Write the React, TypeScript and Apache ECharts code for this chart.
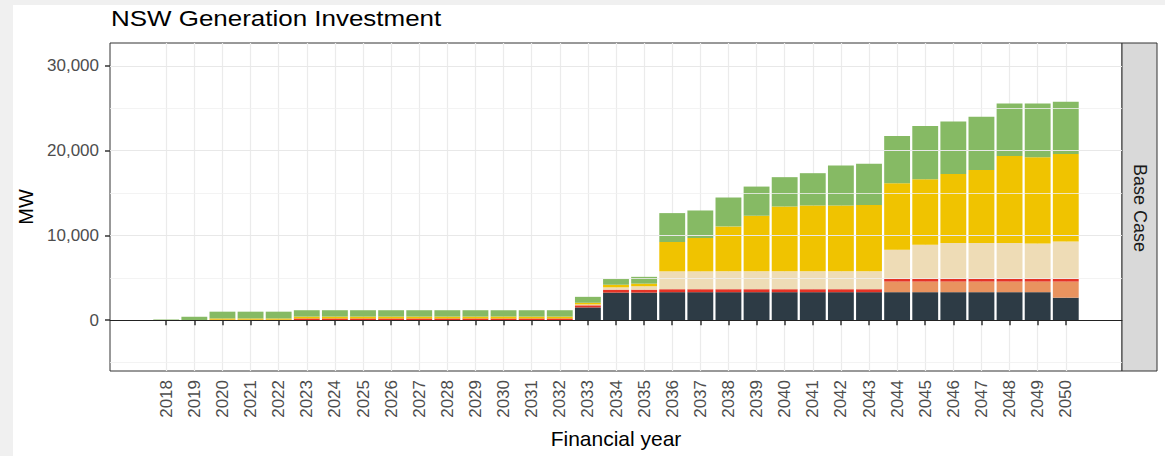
import React, { useEffect, useRef } from "react";
import * as echarts from "echarts";

const years = [
  "2018", "2019", "2020", "2021", "2022", "2023", "2024", "2025", "2026", "2027", "2028",
  "2029", "2030", "2031", "2032", "2033", "2034", "2035", "2036", "2037", "2038", "2039",
  "2040", "2041", "2042", "2043", "2044", "2045", "2046", "2047", "2048", "2049", "2050",
];
const padBefore = ["2016", "2017"];
const padAfter = ["2051", "2052"];

const darkValues = [
  0, 0, 0, 0, 0, 0, 0, 0, 0, 0, 0, 0, 0, 0, 0, 1500, 3250, 3250, 3300, 3300, 3300, 3300,
  3300, 3300, 3300, 3300, 3300, 3300, 3300, 3300, 3300, 3300, 2650,
];
const orangeValues = [
  0, 0, 0, 0, 0, 0, 0, 0, 0, 0, 0, 0, 0, 0, 0, 0, 0, 0, 0, 0, 0, 0, 0, 0, 0, 0,
  1250, 1250, 1250, 1250, 1250, 1250, 1900,
];
const redValues = [
  0, 0, 50, 50, 50, 200, 200, 200, 200, 200, 200, 200, 200, 200, 200, 250, 350, 350, 350,
  350, 350, 350, 350, 350, 350, 350, 350, 350, 350, 350, 350, 350, 350,
];
const beigeValues = [
  0, 0, 0, 0, 0, 0, 0, 0, 0, 0, 0, 0, 0, 0, 0, 100, 270, 400, 2110, 2110, 2110, 2110, 2110,
  2110, 2110, 2110, 3420, 4000, 4200, 4200, 4200, 4150, 4390,
];
const yellowValues = [
  20, 0, 150, 150, 150, 220, 220, 220, 220, 220, 220, 220, 220, 220, 220, 200, 310, 310,
  3460, 3930, 5300, 6560, 7650, 7770, 7770, 7840, 7840, 7730, 8150, 8630, 10270, 10170, 10320,
];
const greenValues = [
  60, 400, 800, 800, 800, 750, 750, 750, 750, 750, 750, 750, 750, 750, 750, 700, 670, 800,
  3410, 3250, 3410, 3440, 3460, 3810, 4710, 4840, 5570, 6270, 6200, 6270, 6200, 6350, 6150,
];

const yTickValues = [0, 10000, 20000, 30000];
const yMinorValues = [-5000, 5000, 15000, 25000];

const seriesDefs = [
  { name: "Storage", color: "#2d3b45", values: darkValues },
  { name: "Gas", color: "#e9935f", values: orangeValues },
  { name: "Peaking", color: "#e53426", values: redValues },
  { name: "Distributed", color: "#eedcb6", values: beigeValues },
  { name: "Solar", color: "#f0c300", values: yellowValues },
  { name: "Wind", color: "#86ba64", values: greenValues },
];

const FONT = "Liberation Sans, Arial, sans-serif";

export default function App() {
  const ref = useRef<HTMLDivElement>(null);

  useEffect(() => {
    if (!ref.current) return;
    const chart = echarts.init(ref.current, null, { renderer: "svg" });
    const categories = [...padBefore, ...years, ...padAfter];
    const first = padBefore.length;
    const last = padBefore.length + years.length - 1;
    const shown = (i: number) => i >= first && i <= last;
    const pad = (arr: number[]) => [
      ...padBefore.map(() => null),
      ...arr,
      ...padAfter.map(() => null),
    ];

    const gridLeft = 110;
    const gridTop = 43;
    const gridWidth = 1012;
    const gridHeight = 328;

    chart.setOption({
      animation: false,
      backgroundColor: "transparent",
      textStyle: { fontFamily: FONT },
      grid: {
        left: gridLeft,
        top: gridTop,
        width: gridWidth,
        height: gridHeight,
        show: true,
        borderColor: "#333333",
        borderWidth: 1,
        backgroundColor: "transparent",
        containLabel: false,
      },
      xAxis: {
        type: "category",
        data: categories,
        boundaryGap: false,
        name: "Financial year",
        nameLocation: "middle",
        nameGap: 57,
        nameTextStyle: { fontSize: 21, color: "#000", fontFamily: FONT },
        axisLine: { show: true, lineStyle: { color: "#333333", width: 1 } },
        axisTick: {
          show: true,
          length: 5,
          interval: (i: number) => shown(i),
          lineStyle: { color: "#333333", width: 1.5 },
        },
        axisLabel: {
          show: true,
          rotate: 90,
          margin: 9,
          interval: (i: number) => shown(i),
          fontSize: 17,
          color: "#4d4d4d",
          fontFamily: FONT,
        },
        splitLine: {
          show: true,
          interval: (i: number) => shown(i),
          lineStyle: { color: "#ebebeb", width: 1.2 },
        },
      },
      yAxis: {
        type: "value",
        min: -6000,
        max: 32700,
        name: "MW",
        nameLocation: "middle",
        nameGap: 66,
        nameRotate: 90,
        nameTextStyle: { fontSize: 20, color: "#000", fontFamily: FONT },
        axisLine: { show: false },
        axisTick: {
          show: true,
          length: 5,
          customValues: yTickValues,
          lineStyle: { color: "#333333", width: 1.5 },
        },
        axisLabel: {
          show: true,
          margin: 11,
          customValues: yTickValues,
          fontSize: 17,
          color: "#4d4d4d",
          fontFamily: FONT,
          formatter: (v: number) => v.toLocaleString("en-US"),
        },
        splitLine: { show: false },
      },
      graphic: [
        {
          type: "text",
          x: 111,
          y: 7,
          scaleX: 1.18,
          style: {
            text: "NSW Generation Investment",
            fontSize: 22,
            fontFamily: FONT,
            fill: "#000",
            textVerticalAlign: "top",
          },
        },
        {
          type: "rect",
          shape: { x: gridLeft + gridWidth, y: gridTop, width: 35, height: gridHeight },
          style: { fill: "#d9d9d9", stroke: "#333333", lineWidth: 1 },
        },
        {
          type: "text",
          x: gridLeft + gridWidth + 18,
          y: gridTop + gridHeight / 2 + 1,
          rotation: -Math.PI / 2,
          style: {
            text: "Base Case",
            fontSize: 18,
            fontFamily: FONT,
            fill: "#1a1a1a",
            align: "center",
            verticalAlign: "middle",
          },
        },
      ],
      series: [
        {
          type: "line",
          name: "grid",
          data: [],
          silent: true,
          z: 1,
          markLine: {
            silent: true,
            symbol: ["none", "none"],
            label: { show: false },
            animation: false,
            data: [
              ...yMinorValues.map((v) => ({
                yAxis: v,
                lineStyle: { color: "#f0f0f0", width: 0.8, type: "solid" },
              })),
              ...yTickValues.map((v) => ({
                yAxis: v,
                lineStyle: { color: "#e8e8e8", width: 1.2, type: "solid" },
              })),
            ],
          },
        },
        ...seriesDefs.map((s) => ({
          type: "bar",
          name: s.name,
          stack: "total",
          barWidth: "92%",
          z: 2,
          itemStyle: { color: s.color },
          data: pad(s.values),
        })),
        {
          type: "line",
          name: "zero",
          data: [],
          silent: true,
          z: 3,
          markLine: {
            silent: true,
            symbol: ["none", "none"],
            label: { show: false },
            animation: false,
            data: [{ yAxis: 0, lineStyle: { color: "#222222", width: 1, type: "solid" } }],
          },
        },
      ],
    });
    return () => chart.dispose();
  }, []);

  return (
    <div
      style={{
        position: "fixed",
        left: 0,
        top: 0,
        width: 1165,
        height: 456,
        background: "#f0f0f0",
      }}
    >
      <div
        style={{
          position: "absolute",
          left: 13,
          top: 5,
          right: 0,
          bottom: 0,
          background: "#ffffff",
        }}
      />
      <div
        ref={ref}
        style={{ position: "absolute", left: 0, top: 0, width: 1165, height: 456 }}
      />
    </div>
  );
}
